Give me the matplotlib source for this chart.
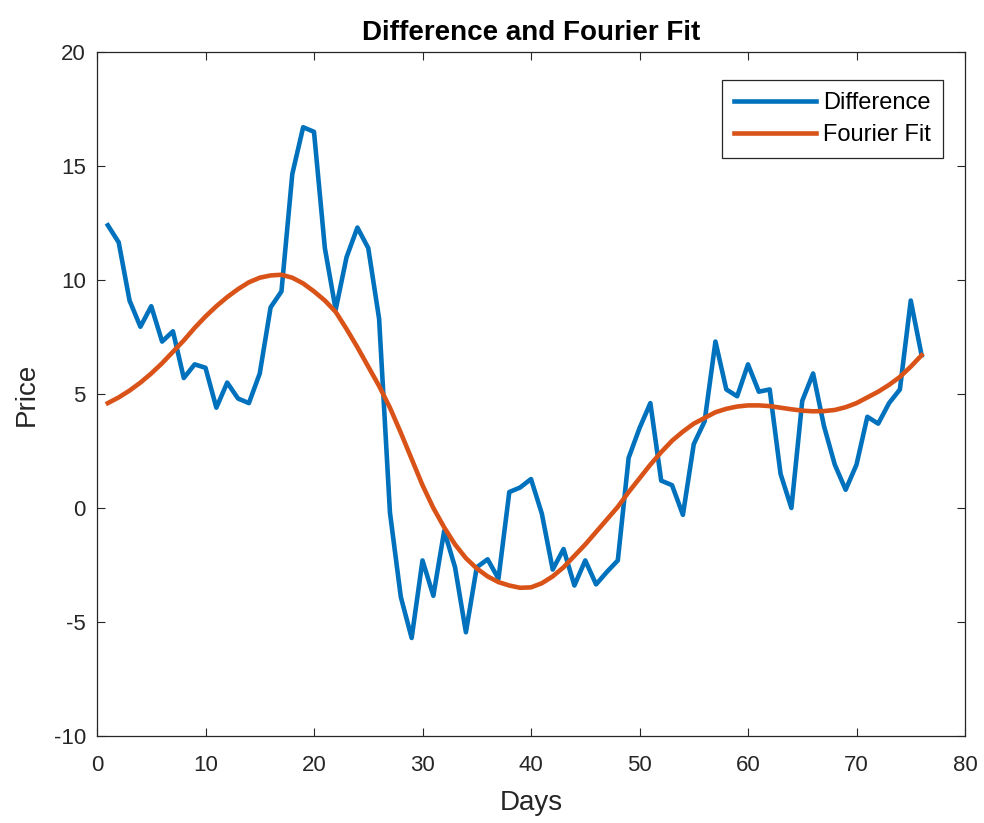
import matplotlib
matplotlib.use("Agg")
import matplotlib.pyplot as plt

days = list(range(1, 77))

difference = [
    12.4, 11.65, 9.1, 7.95, 8.85, 7.3, 7.75, 5.7, 6.3, 6.15,
    4.4, 5.5, 4.8, 4.6, 5.9, 8.8, 9.5, 14.65, 16.7, 16.5,
    11.4, 8.7, 11.0, 12.3, 11.4, 8.3, -0.2, -3.9, -5.7, -2.3,
    -3.85, -1.0, -2.6, -5.45, -2.6, -2.25, -3.1, 0.7, 0.9, 1.27,
    -0.25, -2.7, -1.8, -3.4, -2.3, -3.35, -2.8, -2.3, 2.2, 3.5,
    4.6, 1.2, 1.0, -0.3, 2.8, 3.8, 7.3, 5.2, 4.9, 6.3,
    5.1, 5.2, 1.5, 0.0, 4.7, 5.9, 3.6, 1.9, 0.8, 1.9,
    4.0, 3.7, 4.6, 5.2, 9.1, 6.7,
]

fourier_fit = [
    4.6, 4.85, 5.15, 5.5, 5.9, 6.35, 6.85, 7.35, 7.9, 8.4,
    8.85, 9.25, 9.6, 9.9, 10.1, 10.2, 10.23, 10.1, 9.85, 9.5,
    9.1, 8.6, 7.85, 7.05, 6.2, 5.35, 4.4, 3.3, 2.15, 1.0,
    0.0, -0.85, -1.6, -2.2, -2.65, -3.0, -3.25, -3.4, -3.5, -3.48,
    -3.3, -3.0, -2.6, -2.1, -1.6, -1.05, -0.5, 0.05, 0.7, 1.3,
    1.9, 2.45, 2.95, 3.35, 3.7, 3.95, 4.2, 4.35, 4.45, 4.5,
    4.5, 4.47, 4.4, 4.33, 4.27, 4.24, 4.25, 4.3, 4.42, 4.6,
    4.85, 5.1, 5.4, 5.75, 6.2, 6.7,
]

xticks = list(range(0, 81, 10))
yticks = list(range(-10, 21, 5))

plt.rcParams['font.family'] = ['Liberation Sans', 'DejaVu Sans']
plt.rcParams['axes.unicode_minus'] = False

fig = plt.figure(figsize=(9.84, 8.23), dpi=100)
ax = fig.add_axes([97/984, 87/823, (965-97)/984, (736-52)/823])

ax.plot(days, difference, color='#0072BD', linewidth=3.3, label='Difference')
ax.plot(days, fourier_fit, color='#D95319', linewidth=3.3, label='Fourier Fit')

ax.set_xlim(0, 80)
ax.set_ylim(-10, 20)
ax.set_xticks(xticks)
ax.set_yticks(yticks)
ax.tick_params(direction='in', length=6, width=0.8, top=True, right=True,
               labelsize=16, colors='#262626')
ax.tick_params(axis='x', pad=14)
ax.tick_params(axis='y', pad=8)
for s in ax.spines.values():
    s.set_color('#262626')
    s.set_linewidth(0.9)

ax.set_title('Difference and Fourier Fit', fontsize=20, fontweight='bold', pad=9)
ax.set_xlabel('Days', fontsize=20, color='#262626', labelpad=10)
ax.set_ylabel('Price', fontsize=20, color='#262626', labelpad=10)

leg = ax.legend(loc='upper right', fontsize=17, frameon=True, fancybox=False,
                edgecolor='#262626', framealpha=1, handlelength=3.5,
                borderpad=0.5, labelspacing=0.45, handletextpad=0.3,
                borderaxespad=0.0, bbox_to_anchor=((943-97)/868, 1 - 28/684))
leg.get_frame().set_linewidth(0.9)

fig.savefig('out.png', dpi=100)
